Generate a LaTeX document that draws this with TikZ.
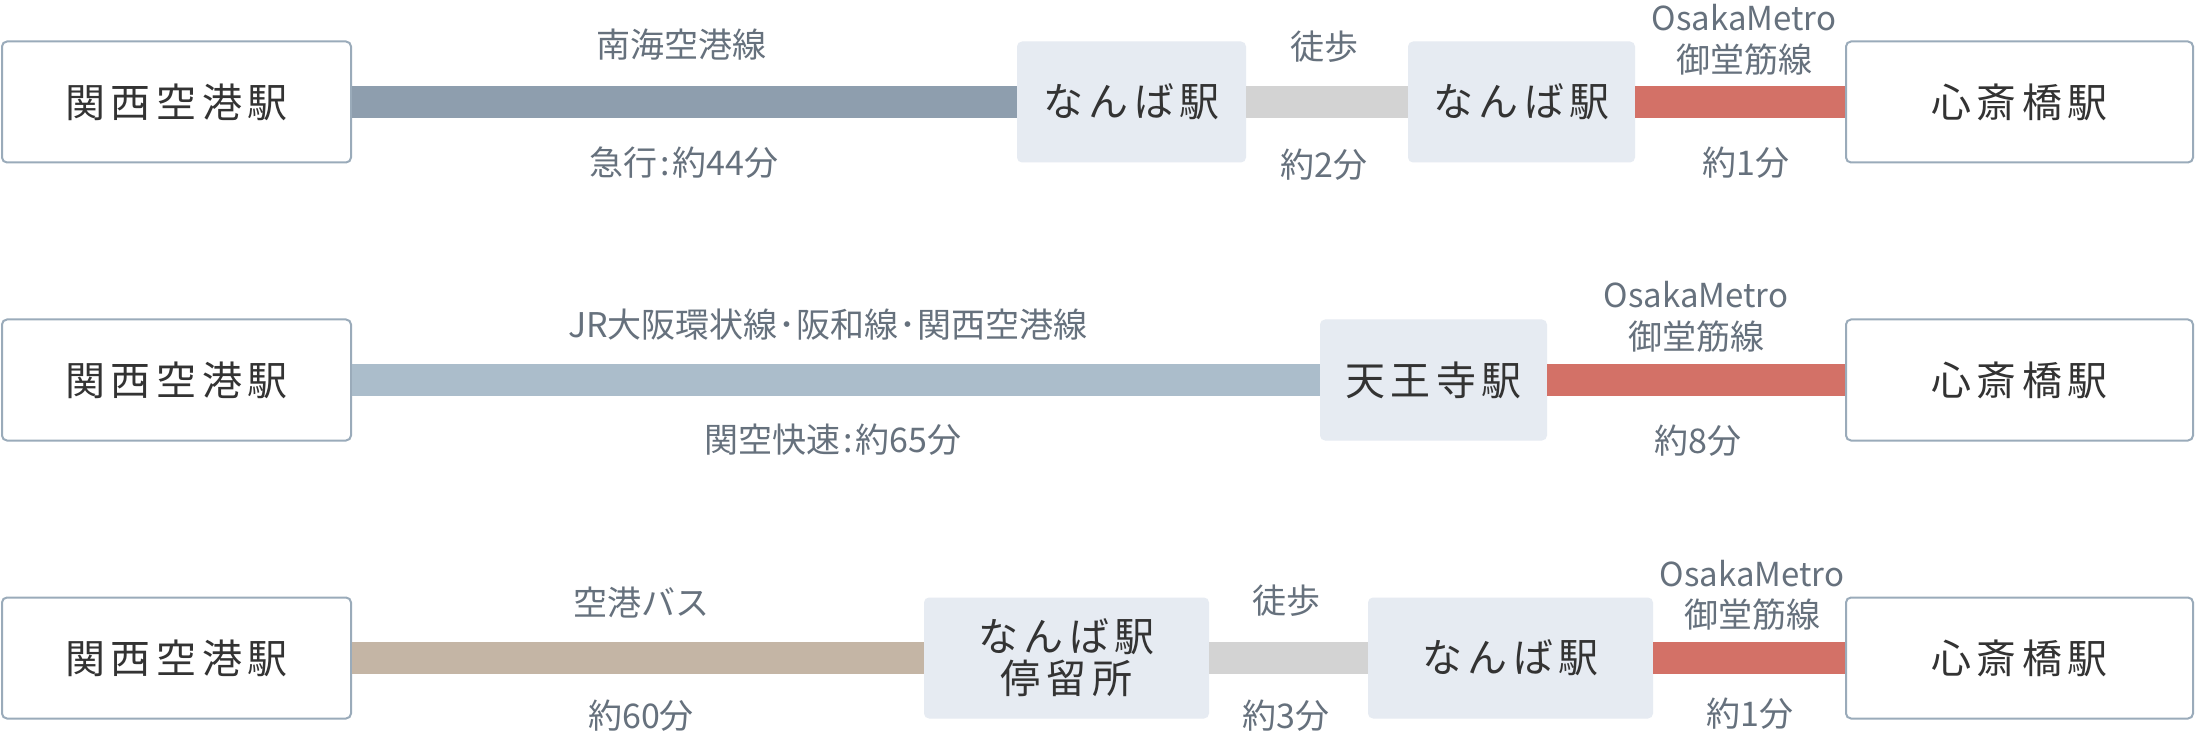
\documentclass[tikz,border=0pt]{standalone}
\usepackage{fontspec}
\setmainfont{Noto Sans CJK JP}
\newfontfamily\boxfont[LetterSpace=14]{Noto Sans CJK JP}
\definecolor{nankai}{HTML}{8E9EAE}
\definecolor{jrline}{HTML}{ABBDCB}
\definecolor{walk}{HTML}{D3D3D3}
\definecolor{metro}{HTML}{D37167}
\definecolor{bus}{HTML}{C4B5A5}
\definecolor{lightbox}{HTML}{E6EBF2}
\definecolor{boxborder}{HTML}{9AABBA}
\definecolor{lbltext}{HTML}{66717D}
\definecolor{boxtext}{HTML}{333333}
\newcommand{\cln}{\kern3pt:\kern3pt}
\newcommand{\mdt}{\kern1pt･\kern1pt}
\tikzset{
  station/.style={rectangle, rounded corners=5pt, minimum height=121pt, inner sep=0pt,
    font=\boxfont\fontsize{40}{42}\selectfont, text=boxtext, align=center},
  wbox/.style={station, draw=boxborder, line width=2pt, fill=white},
  gbox/.style={station, fill=lightbox},
  lbl/.style={font=\fontsize{34}{38}\selectfont, text=lbltext, inner sep=0pt, anchor=center},
  latlbl/.style={lbl, font=\fontsize{33}{36}\selectfont},
  track/.style={line width=32pt}
}
\begin{document}
\begin{tikzpicture}[x=1pt,y=-1pt]
\useasboundingbox[fill=white] (0,0) rectangle (2196,735);

% Row 1
\node[wbox, minimum width=349pt] (A1) at (176.5,102) {関西空港駅};
\node[gbox, minimum width=229pt] (B1) at (1131.5,102) {なんば駅};
\node[gbox, minimum width=227pt] (C1) at (1521.5,102) {なんば駅};
\node[wbox, minimum width=347pt] (D1) at (2019.5,102) {心斎橋駅};
\draw[track, nankai] (A1.east) -- (B1.west);
\draw[track, walk] (B1.east) -- (C1.west);
\draw[track, metro] (C1.east) -- (D1.west);
\node[lbl] (L1a) at (681,45) {南海空港線};
\node[lbl] (L1b) at (684,163) {急行\cln 約44分};
\node[lbl] (L1c) at (1324,47) {徒歩};
\node[lbl] (L1d) at (1324,165) {約2分};
\node[latlbl] (L1e) at (1744,18) {OsakaMetro};
\node[lbl] (L1f) at (1744,60) {御堂筋線};
\node[lbl] (L1g) at (1746,163) {約1分};

% Row 2
\node[wbox, minimum width=349pt] (A2) at (176.5,380) {関西空港駅};
\node[gbox, minimum width=227pt] (B2) at (1433.5,380) {天王寺駅};
\node[wbox, minimum width=347pt] (D2) at (2019.5,380) {心斎橋駅};
\draw[track, jrline] (A2.east) -- (B2.west);
\draw[track, metro] (B2.east) -- (D2.west);
\node[lbl] (L2a) at (828,325) {JR大阪環状線\mdt 阪和線\mdt 関西空港線};
\node[lbl] (L2b) at (833,440) {関空快速\cln 約65分};
\node[latlbl] (L2c) at (1696,295) {OsakaMetro};
\node[lbl] (L2d) at (1696,337) {御堂筋線};
\node[lbl] (L2e) at (1698,441) {約8分};

% Row 3
\node[wbox, minimum width=349pt] (A3) at (176.5,658) {関西空港駅};
\node[gbox, minimum width=285pt] (B3) at (1066.5,658) {なんば駅\\停留所};
\node[gbox, minimum width=285pt] (C3) at (1510.5,658) {なんば駅};
\node[wbox, minimum width=347pt] (D3) at (2019.5,658) {心斎橋駅};
\draw[track, bus] (A3.east) -- (B3.west);
\draw[track, walk] (B3.east) -- (C3.west);
\draw[track, metro] (C3.east) -- (D3.west);
\node[lbl] (L3a) at (641,603) {空港バス};
\node[lbl] (L3b) at (641,716) {約60分};
\node[lbl] (L3c) at (1286,601) {徒歩};
\node[lbl] (L3d) at (1286,716) {約3分};
\node[latlbl] (L3e) at (1752,574) {OsakaMetro};
\node[lbl] (L3f) at (1752,615) {御堂筋線};
\node[lbl] (L3g) at (1750,714) {約1分};
\end{tikzpicture}
\end{document}
